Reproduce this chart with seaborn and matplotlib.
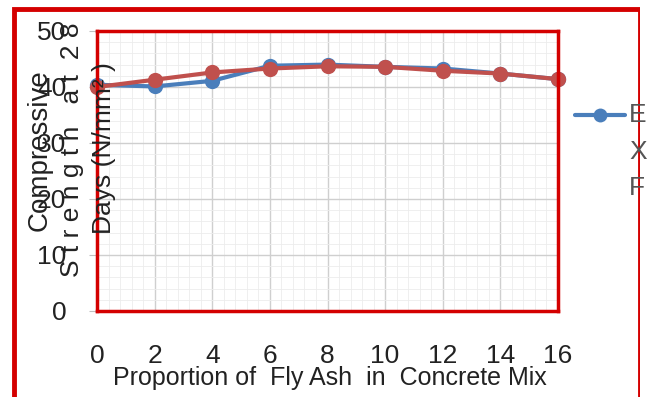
import pandas as pd
import seaborn as sns
import matplotlib.pyplot as plt
from matplotlib.lines import Line2D
from matplotlib.patches import Rectangle

# data
fly_ash = [0, 2, 4, 6, 8, 10, 12, 14, 16]
blue_vals = [40.4, 40.1, 41.1, 43.8, 44.0, 43.6, 43.3, 42.4, 41.4]
red_vals = [40.0, 41.3, 42.6, 43.3, 43.7, 43.6, 42.9, 42.4, 41.4]
series_names = ["Experimental", "Predicted"]
x_ticks = [0, 2, 4, 6, 8, 10, 12, 14, 16]
y_ticks = [0, 10, 20, 30, 40, 50]

df = pd.DataFrame({
    "x": fly_ash * 2,
    "y": blue_vals + red_vals,
    "series": [series_names[0]] * len(fly_ash) + [series_names[1]] * len(fly_ash),
})

sns.set_style("white")
plt.rcParams["font.family"] = ["Liberation Sans Narrow", "Liberation Sans", "DejaVu Sans"]

fig = plt.figure(figsize=(6.59, 3.97), dpi=100)
W, H = 659, 397
ax = fig.add_axes([97 / W, 1 - 311 / H, 461 / W, 280 / H])

palette = {series_names[0]: "#4a7ebb", series_names[1]: "#c0504d"}
sns.lineplot(data=df, x="x", y="y", hue="series", palette=palette, marker="o",
             markersize=11, linewidth=3, markeredgewidth=0, legend=False,
             ax=ax, clip_on=False)

ax.set_xlim(0, 16)
ax.set_ylim(0, 50)
ax.set_xticks(x_ticks)
ax.set_yticks(y_ticks)
ax.set_xticks([i * 0.4 for i in range(41)], minor=True)
ax.set_yticks([i * 2 for i in range(26)], minor=True)
ax.grid(which="major", color="#cfcfcf", linewidth=1)
ax.grid(which="minor", color="#ececec", linewidth=0.6)
ax.set_axisbelow(True)

ax.tick_params(axis="x", which="major", length=10, color="#bfbfbf", labelsize=19,
               labelcolor="#222222", pad=14)
ax.tick_params(axis="y", which="major", length=6, color="#bfbfbf", labelsize=19,
               labelcolor="#222222", pad=16, left=True)
ax.tick_params(which="minor", length=0)

for s in ax.spines.values():
    s.set_color("#d40000")
    s.set_linewidth(2.5)

ax.set_xlabel("")
ax.set_ylabel("")

# axis labels, drawn the way the original overlaps them
fig.text(330 / W, 1 - 378 / H, "Proportion of  Fly Ash  in  Concrete Mix",
         ha="center", va="center", fontsize=18, color="#222222")
fig.text(40 / W, 1 - 150 / H, "Compressive", rotation=90, ha="center", va="center",
         fontsize=20, color="#222222")
fig.text(72 / W, 1 - 150 / H, "S t r e n g t h   a t  2 8", rotation=90, ha="center",
         va="center", fontsize=19, color="#222222")
fig.text(104 / W, 1 - 148 / H, "Days (N/mm\u00b2 )", rotation=90, ha="center",
         va="center", fontsize=19, color="#222222")

# legend, cut off by the frame
fig.add_artist(Line2D([575 / W, 625 / W], [1 - 115 / H, 1 - 115 / H],
                      color="#4a7ebb", linewidth=3, transform=fig.transFigure))
fig.add_artist(Line2D([600 / W], [1 - 115 / H], color="#4a7ebb", marker="o",
                      markersize=10, markeredgewidth=0, transform=fig.transFigure))
for lbl, yy in zip(["E", "X", "F"], [115, 152, 188]):
    fig.text(629 / W, 1 - yy / H, lbl, ha="left", va="center", fontsize=19, color="#555555")

# outer red frame
fig.add_artist(Rectangle((14 / W, -0.05), (640 - 14) / W, 1.05 - 9 / H, fill=False,
                         edgecolor="#d40000", linewidth=3.5, transform=fig.transFigure))
fig.add_artist(Rectangle((640 / W, 0), 1 - 640 / W, 1, facecolor="white",
                         edgecolor="none", transform=fig.transFigure))

fig.savefig("out.png", dpi=100)
